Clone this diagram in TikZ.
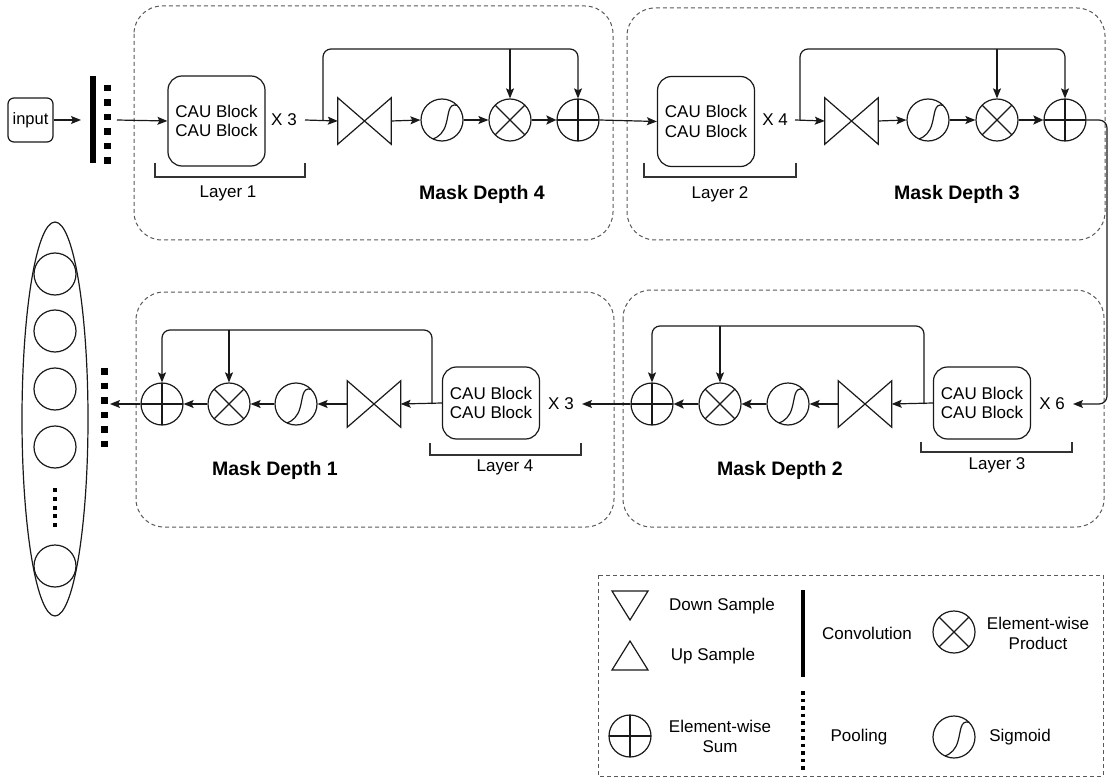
\documentclass[tikz,border=0pt]{standalone}
\usepackage{fontspec}
\setmainfont{Liberation Sans}
\usetikzlibrary{arrows.meta,shapes.geometric}
\newcommand\drawbowtie[1]{\draw[ln] (#1.north west) -- (#1.south east) -- (#1.north east) -- (#1.south west) -- cycle;}
\begin{document}
\begin{tikzpicture}[x=1pt,y=-1pt,
  panel/.style={draw=black!65, line width=1pt, dash pattern=on 4pt off 3pt, rounded corners=28pt},
  legbox/.style={draw=black!65, line width=1pt, dash pattern=on 4pt off 3pt},
  ln/.style={line width=1.2pt, draw=black!90},
  brk/.style={line width=1.1pt, draw=black!80},
  arr/.style={ln, -{Stealth[length=10pt,width=8pt,inset=2pt]}},
  tarr/.style={ln, line width=2.4pt, -{Stealth[length=10pt,width=9pt,inset=2pt]}},
  op/.style={circle, draw=black!90, line width=1.2pt, minimum size=42pt, inner sep=0pt},
  sumop/.style={op, path picture={\draw[line width=1.2pt] (path picture bounding box.north) -- (path picture bounding box.south) (path picture bounding box.west) -- (path picture bounding box.east);}},
  prodop/.style={op, path picture={\draw[line width=1.2pt] (path picture bounding box.north west) -- (path picture bounding box.south east) (path picture bounding box.north east) -- (path picture bounding box.south west);}},
  sigop/.style={op, path picture={\draw[line width=1.2pt]
     ([shift={(15pt,14.7pt)}]path picture bounding box.center) .. controls ([shift={(6pt,17pt)}]path picture bounding box.center) and ([shift={(7pt,6pt)}]path picture bounding box.center) .. ([shift={(4pt,-4pt)}]path picture bounding box.center) .. controls ([shift={(2pt,-12pt)}]path picture bounding box.center) and ([shift={(-3pt,-17pt)}]path picture bounding box.center) .. ([shift={(-10pt,-19.5pt)}]path picture bounding box.center);}},
  bt/.style={minimum width=53pt, minimum height=46pt, inner sep=0pt},
  cau/.style={draw=black!90, line width=1.2pt, rounded corners=14pt, minimum width=97pt, minimum height=90pt, align=center, font=\fontsize{17}{19.5}\selectfont, inner sep=0pt},
  cauS/.style={cau, minimum height=72pt},
  txt/.style={font=\fontsize{17}{20}\selectfont, inner sep=0pt, align=center},
  mask/.style={font=\bfseries\fontsize{19.5}{22}\selectfont, inner sep=0pt},
  conv/.style={line width=6pt, draw=black},
  pool/.style={line width=7pt, draw=black, dash pattern=on 6.5pt off 8pt},
  lconv/.style={line width=4pt, draw=black},
  lpool/.style={line width=4pt, draw=black, dash pattern=on 3.5pt off 4pt},
  edots/.style={line width=4pt, draw=black, dash pattern=on 4pt off 4.75pt},
  inbox/.style={draw=black!90, line width=1.2pt, rounded corners=6pt, minimum width=45pt, minimum height=44pt, inner sep=0pt, font=\fontsize{16.5}{18}\selectfont}
]
\useasboundingbox (0,0) rectangle (1111,778);

% panels
\draw[panel] (134,6) rectangle (613,240);
\draw[panel] (627,8) rectangle (1105,240);
\draw[panel] (136,292) rectangle (614,527);
\draw[panel] (623,290) rectangle (1104,527);

% ---------- top row ----------
\node[inbox] (input) at (30.5,120) {input};
\draw[conv] (93,76) -- (93,163);
\draw[pool] (107.5,85) -- (107.5,164);
\coordinate (convin) at (81,120);
\coordinate (poolout) at (117,120);
\draw[arr] (input.east) -- (convin);

\node[cau] (cau1) at (216.5,121) {CAU Block\\CAU Block};
\node[txt] (x3a) at (284,120) {X 3};
\coordinate (x3aout) at (305,120);
\coordinate (br1) at (323,120);
\draw[arr] (poolout) -- (cau1.west);

\node[bt] (bt1) at (364.5,121) {};
\drawbowtie{bt1}
\node[sigop] (sg1) at (442,120) {};
\node[prodop] (pr1) at (510,120) {};
\node[sumop] (sm1) at (578,120) {};
\draw[arr] (x3aout) -- (bt1.west);
\draw[arr] (bt1.east) -- (sg1.west);
\draw[arr] (sg1.east) -- (pr1.west);
\draw[tarr] (pr1.east) -- (sm1.west);
\draw[arr, rounded corners=8pt] (br1) -- (323,49) -- (578,49) -- (sm1.north);
\draw[arr] (510,49) -- (pr1.north);
\draw[brk] (155,163) -- (155,177) -- (305,177) -- (305,163);
\node[txt] (lay1) at (228,193) {Layer 1};
\node[mask] (md4) at (482,194) {Mask Depth 4};

\node[cau] (cau2) at (706,121.5) {CAU Block\\CAU Block};
\draw[arr] (sm1.east) -- (cau2.west);
\node[txt] (x4) at (775,120) {X 4};
\coordinate (x4out) at (795,120);
\coordinate (br2) at (800,120);
\node[bt] (bt2) at (851.5,121) {};
\drawbowtie{bt2}
\node[sigop] (sg2) at (928,120) {};
\node[prodop] (pr2) at (997,120) {};
\node[sumop] (sm2) at (1065,120) {};
\draw[arr] (x4out) -- (bt2.west);
\draw[arr] (bt2.east) -- (sg2.west);
\draw[arr] (sg2.east) -- (pr2.west);
\draw[tarr] (pr2.east) -- (sm2.west);
\draw[arr, rounded corners=8pt] (br2) -- (800,49) -- (1065,49) -- (sm2.north);
\draw[arr] (997,49) -- (pr2.north);
\draw[brk] (644,163) -- (644,177) -- (796,177) -- (796,163);
\node[txt] (lay2) at (720,194) {Layer 2};
\node[mask] (md3) at (957,194) {Mask Depth 3};

% ---------- bottom row ----------
\node[txt] (x6) at (1052,404) {X 6};
\coordinate (x6in) at (1073,404);
\draw[arr, rounded corners=8pt] (sm2.east) -- (1107,120) -- (1107,404) -- (x6in);

\node[cauS] (cau3) at (982,403) {CAU Block\\CAU Block};
\coordinate (br3) at (924,404);
\node[bt] (bt3) at (865,404) {};
\drawbowtie{bt3}
\node[sigop] (sg3) at (788,404) {};
\node[prodop] (pr3) at (720,404) {};
\node[sumop] (sm3) at (652,404) {};
\draw[arr] (cau3.west) -- (bt3.east);
\draw[arr] (bt3.west) -- (sg3.east);
\draw[tarr] (sg3.west) -- (pr3.east);
\draw[tarr] (pr3.west) -- (sm3.east);
\draw[arr, rounded corners=8pt] (br3) -- (924,326) -- (652,326) -- (sm3.north);
\draw[arr] (720,326) -- (pr3.north);
\draw[brk] (921,442) -- (921,452) -- (1072,452) -- (1072,442);
\node[txt] (lay3) at (997,465) {Layer 3};
\node[mask] (md2) at (780,470) {Mask Depth 2};

\node[txt] (x3b) at (561,404) {X 3};
\coordinate (x3bin) at (582,404);
\draw[arr] (sm3.west) -- (x3bin);
\node[cauS] (cau4) at (491,403) {CAU Block\\CAU Block};
\coordinate (br4) at (432,404);
\node[bt] (bt4) at (374,404) {};
\drawbowtie{bt4}
\node[sigop] (sg4) at (296,404) {};
\node[prodop] (pr4) at (229,404) {};
\node[sumop] (sm4) at (162,404) {};
\draw[arr] (cau4.west) -- (bt4.east);
\draw[arr] (bt4.west) -- (sg4.east);
\draw[arr] (sg4.west) -- (pr4.east);
\draw[arr] (pr4.west) -- (sm4.east);
\draw[arr, rounded corners=8pt] (br4) -- (432,330) -- (162,330) -- (sm4.north);
\draw[arr] (229,330) -- (pr4.north);
\draw[brk] (430,443) -- (430,455) -- (581,455) -- (581,443);
\node[txt] (lay4) at (505,467) {Layer 4};
\node[mask] (md1) at (275,470) {Mask Depth 1};

\draw[pool] (104,368) -- (104,448);
\coordinate (poolin2) at (110,404);
\draw[arr] (sm4.west) -- (poolin2);

% output ellipse
\node[ellipse, draw=black!90, line width=1.2pt, minimum width=66pt, minimum height=394pt, inner sep=0pt] (outel) at (55,419) {};
\foreach \yy [count=\i] in {274,331,389,447,566} {
  \node[circle, draw=black!90, line width=1.2pt, minimum size=42pt, inner sep=0pt] (oc\i) at (55,\yy) {};
}
\draw[edots] (55,488) -- (55,527);

% ---------- legend ----------
\draw[legbox] (598,575) rectangle (1103,776);
\draw[ln] (612,591) -- (648,591) -- (630,620) -- cycle;
\draw[ln] (612,670) -- (648,670) -- (630,641) -- cycle;
\node[txt] (ldown) at (722,606) {Down Sample};
\node[txt] (lup) at (713,656) {Up Sample};
\node[sumop] (lsum) at (630,736) {};
\node[txt] (lsumt) at (720,736) {Element-wise\\Sum};
\draw[lconv] (803,590) -- (803,677);
\node[txt] (lconvt) at (867,633) {Convolution};
\draw[lpool] (803,691) -- (803,773);
\node[txt] (lpoolt) at (859,737) {Pooling};
\node[prodop] (lprod) at (954,632) {};
\node[txt] (lprodt) at (1038,633) {Element-wise\\Product};
\node[sigop] (lsig) at (954,737) {};
\node[txt] (lsigt) at (1020,737) {Sigmoid};
\end{tikzpicture}
\end{document}
